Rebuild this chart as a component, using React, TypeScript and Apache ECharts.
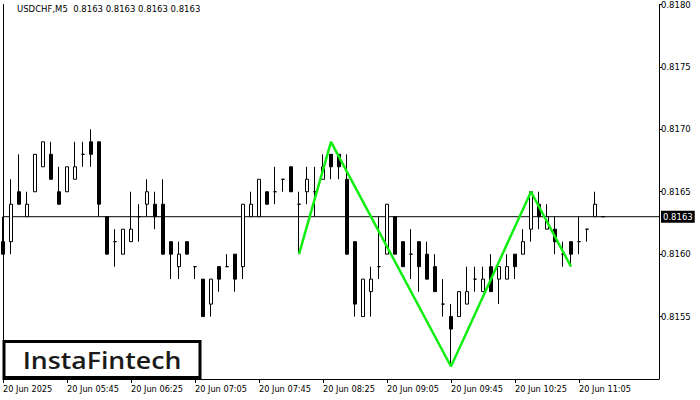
import React, { useEffect, useRef } from "react";
import * as echarts from "echarts";

// ---- data ----
const opens = [
  0.8161, 0.8161, 0.8165, 0.8163, 0.8165, 0.8167, 0.8168, 0.8165, 0.8165, 0.8166,
  0.8168, 0.8169, 0.8169, 0.8163, 0.8161, 0.8160, 0.8161, 0.8163, 0.8164, 0.8164,
  0.8164, 0.8161, 0.8159, 0.8161, 0.8159, 0.8158, 0.8156, 0.8159, 0.8159, 0.8160,
  0.8159, 0.8163, 0.8163, 0.8165, 0.8165, 0.8166, 0.8167, 0.8164, 0.8165, 0.8165,
  0.8166, 0.8168, 0.8168, 0.8166, 0.8161, 0.8155, 0.8157, 0.8159, 0.8160, 0.8163,
  0.8161, 0.8160, 0.8161, 0.8160, 0.8159, 0.8156, 0.8155, 0.8155, 0.8156, 0.8158,
  0.8157, 0.8159, 0.8158, 0.8158, 0.8160, 0.8160, 0.8162, 0.8164, 0.8162, 0.8162,
  0.8160, 0.8161, 0.8161, 0.8162, 0.8163, 0.8163,
];
const closes = [
  0.8160, 0.8164, 0.8164, 0.8164, 0.8168, 0.8169, 0.8166, 0.8164, 0.8167, 0.8167,
  0.8168, 0.8168, 0.8164, 0.8160, 0.8161, 0.8162, 0.8162, 0.8163, 0.8165, 0.8163,
  0.8160, 0.8160, 0.8160, 0.8160, 0.8159, 0.8155, 0.8158, 0.8158, 0.8159, 0.8158,
  0.8164, 0.8164, 0.8166, 0.8164, 0.8165, 0.8166, 0.8165, 0.8164, 0.8166, 0.8165,
  0.8167, 0.8167, 0.8167, 0.8160, 0.8156, 0.8158, 0.8158, 0.8159, 0.8164, 0.8160,
  0.8159, 0.8160, 0.8159, 0.8158, 0.8157, 0.8156, 0.8154, 0.8157, 0.8157, 0.8158,
  0.8158, 0.8157, 0.8159, 0.8159, 0.8159, 0.8161, 0.8165, 0.8163, 0.8163, 0.8161,
  0.8160, 0.8160, 0.8161, 0.8162, 0.8164, 0.8163,
];
const lows = [
  0.8160, 0.8160, 0.8164, 0.8163, 0.8165, 0.8167, 0.8166, 0.8164, 0.8165, 0.8166,
  0.8167, 0.8167, 0.8163, 0.8160, 0.8159, 0.8160, 0.8161, 0.8161, 0.8163, 0.8162,
  0.8160, 0.8158, 0.8158, 0.8160, 0.8158, 0.8155, 0.8155, 0.8157, 0.8159, 0.8157,
  0.8158, 0.8163, 0.8163, 0.8164, 0.8164, 0.8165, 0.8165, 0.8160, 0.8164, 0.8163,
  0.8166, 0.8166, 0.8166, 0.8160, 0.8155, 0.8155, 0.8155, 0.8158, 0.8160, 0.8160,
  0.8159, 0.8158, 0.8157, 0.8158, 0.8157, 0.8155, 0.8151, 0.8155, 0.8156, 0.8157,
  0.8157, 0.8157, 0.8156, 0.8158, 0.8158, 0.8160, 0.8161, 0.8162, 0.8162, 0.8160,
  0.8159, 0.8159, 0.8160, 0.8161, 0.8163, 0.8163,
];
const highs = [
  0.8163, 0.8166, 0.8168, 0.8165, 0.8168, 0.8169, 0.8169, 0.8167, 0.8167, 0.8169,
  0.8169, 0.8170, 0.8169, 0.8163, 0.8162, 0.8162, 0.8165, 0.8164, 0.8166, 0.8165,
  0.8166, 0.8161, 0.8161, 0.8161, 0.8159, 0.8158, 0.8158, 0.8159, 0.8160, 0.8160,
  0.8164, 0.8165, 0.8166, 0.8165, 0.8167, 0.8166, 0.8167, 0.8165, 0.8167, 0.8167,
  0.8168, 0.8168, 0.8168, 0.8168, 0.8161, 0.8158, 0.8159, 0.8163, 0.8164, 0.8163,
  0.8161, 0.8162, 0.8161, 0.8161, 0.8160, 0.8158, 0.8156, 0.8157, 0.8159, 0.8159,
  0.8159, 0.8160, 0.8159, 0.8160, 0.8160, 0.8162, 0.8165, 0.8165, 0.8164, 0.8163,
  0.8161, 0.8161, 0.8163, 0.8162, 0.8165, 0.8163,
];

const lastPrice = 0.8163;
const symbolName = "USDCHF,M5";

// double-bottom zigzag pattern (bar index, price)
const patternIndex = [37, 41, 56, 66, 71];
const patternPrice = [0.8160, 0.8169, 0.8151, 0.8165, 0.8159];

// axes
const yMin = 0.815;
const yMax = 0.818;
const yStep = 0.0005;
const slotCount = 83; // bars that fit across the plot
const startMinutes = 5 * 60 + 5; // 05:05 first bar
const barMinutes = 5;
const labelEvery = 8;
const lastLabelIndex = 72;
const firstLabel = "20 Jun 2025";
const dayPrefix = "20 Jun";

const pad = (n: number) => (n < 10 ? "0" + n : String(n));
const categories: string[] = [];
for (let i = 0; i < slotCount; i++) {
  const m = startMinutes + barMinutes * i;
  categories.push(i === 0 ? firstLabel : `${dayPrefix} ${pad(Math.floor(m / 60))}:${pad(m % 60)}`);
}

const candles = opens.map((o, i) => [o, closes[i], lows[i], highs[i]]);
const pattern = patternIndex.map((x, i) => [x, patternPrice[i]]);
const priceLine = [
  [0, lastPrice],
  [slotCount - 1, lastPrice],
];

const showTick = (index: number) => index % labelEvery === 0 && index <= lastLabelIndex;

const axisFont = "DejaVu Sans";

export default function App() {
  const ref = useRef<HTMLDivElement>(null);
  useEffect(() => {
    if (!ref.current) return;
    const chart = echarts.init(ref.current, undefined, { renderer: "svg" });
    const option: any = {
      animation: false,
      backgroundColor: "#ffffff",
      grid: { left: 3, right: 41, top: 4, bottom: 21, containLabel: false },
      xAxis: {
        type: "category",
        data: categories,
        boundaryGap: false,
        axisLine: { show: true, onZero: false, lineStyle: { color: "#000", width: 1 } },
        axisTick: { show: true, interval: showTick, length: 4, lineStyle: { color: "#000", width: 1 } },
        axisLabel: {
          interval: showTick,
          align: "left",
          color: "#000",
          fontSize: 8.2,
          fontFamily: axisFont,
          margin: 6,
        },
        splitLine: { show: false },
      },
      yAxis: [
        {
          type: "value",
          position: "right",
          min: yMin,
          max: yMax,
          interval: yStep,
          axisLine: { show: true, lineStyle: { color: "#000", width: 1 } },
          axisTick: { show: true, length: 3, lineStyle: { color: "#000", width: 1 } },
          axisLabel: {
            color: "#000",
            fontSize: 8.5,
            fontFamily: axisFont,
            margin: 2,
            showMinLabel: false,
            formatter: (v: number) => v.toFixed(4),
          },
          splitLine: { show: false },
        },
        {
          type: "value",
          position: "left",
          min: yMin,
          max: yMax,
          interval: yStep,
          axisLine: { show: true, lineStyle: { color: "#000", width: 1 } },
          axisTick: { show: false },
          axisLabel: { show: false },
          splitLine: { show: false },
        },
      ],
      series: [
        {
          type: "line",
          data: priceLine,
          symbol: "none",
          silent: true,
          z: 1,
          lineStyle: { color: "#000", width: 1 },
          endLabel: {
            show: true,
            distance: 2,
            formatter: () => lastPrice.toFixed(4),
            color: "#fff",
            backgroundColor: "#000",
            padding: [2, 2, 1, 2],
            fontSize: 8.5,
            fontFamily: axisFont,
          },
        },
        {
          type: "candlestick",
          data: candles,
          barWidth: 3,
          clip: true,
          z: 2,
          itemStyle: {
            color: "#ffffff",
            color0: "#000000",
            borderColor: "#000000",
            borderColor0: "#000000",
            borderColorDoji: "#000000",
            borderWidth: 1,
          },
        },
        {
          type: "line",
          data: pattern,
          symbol: "none",
          z: 5,
          lineStyle: { color: "#11ee11", width: 2.5 },
        },
      ],
      graphic: [
        {
          type: "text",
          x: 17,
          y: 9,
          z: 50,
          style: {
            text: `${symbolName}  ${[lastPrice, lastPrice, lastPrice, lastPrice].map((v) => v.toFixed(4)).join(" ")}`,
            fontSize: 8.5,
            fontFamily: axisFont,
            fill: "#000",
            verticalAlign: "middle",
          },
        },
        {
          type: "rect",
          z: 100,
          shape: { x: 4, y: 341.5, width: 196, height: 36 },
          style: { fill: "#fff", stroke: "#000", lineWidth: 3 },
        },
        {
          type: "text",
          z: 101,
          x: 102,
          y: 360,
          scaleX: 1.16,
          style: {
            text: "InstaFintech",
            fontSize: 23,
            fontWeight: 600,
            fontFamily: "Open Sans",
            fill: "#1a1a1a",
            align: "center",
            verticalAlign: "middle",
          },
        },
      ],
    };
    chart.setOption(option);
    return () => chart.dispose();
  }, []);
  return (
    <div
      ref={ref}
      style={{ position: "fixed", left: 0, top: 0, width: 700, height: 400, background: "#fff" }}
    />
  );
}
